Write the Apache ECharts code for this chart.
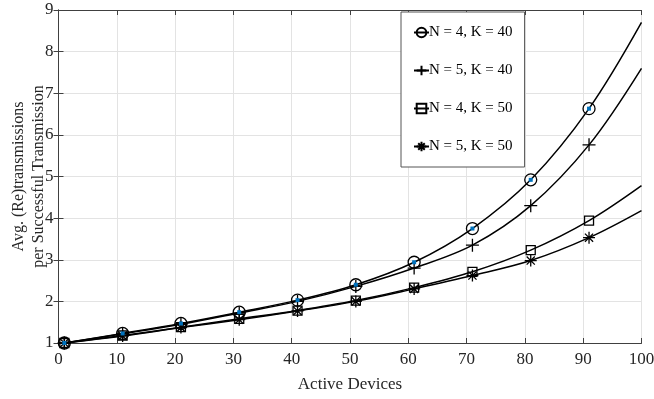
<!DOCTYPE html>
<html>
<head>
<meta charset="utf-8">
<script src="https://cdn.jsdelivr.net/npm/echarts@6/dist/echarts.min.js"></script>
<style>html,body{margin:0;padding:0;background:#fff;}#c{width:654px;height:399px;}</style>
</head>
<body>
<div id="c"></div>
<script>
// Data
const xValues = [1, 11, 21, 31, 41, 51, 61, 71, 81, 91, 100];
const seriesNames = ['N = 4, K = 40', 'N = 5, K = 40', 'N = 4, K = 50', 'N = 5, K = 50'];
const n4k40 = [1.00, 1.23, 1.47, 1.74, 2.03, 2.40, 2.94, 3.75, 4.92, 6.63, 8.70];
const n5k40 = [1.00, 1.22, 1.45, 1.72, 2.00, 2.36, 2.80, 3.35, 4.30, 5.76, 7.60];
const n4k50 = [1.00, 1.18, 1.38, 1.58, 1.78, 2.02, 2.33, 2.71, 3.23, 3.94, 4.78];
const n5k50 = [1.00, 1.17, 1.37, 1.56, 1.77, 2.00, 2.30, 2.62, 2.98, 3.53, 4.18];
const simX = [1, 11, 21, 31, 41, 51, 61, 71, 81, 91];
const simN4K40 = [1.00, 1.23, 1.47, 1.74, 2.03, 2.40, 2.94, 3.75, 4.92, 6.63];
const xTicks = [0, 10, 20, 30, 40, 50, 60, 70, 80, 90, 100];
const yTicks = [1, 2, 3, 4, 5, 6, 7, 8, 9];

const FONT = 'Liberation Serif';
const symbols = [
  {symbol: 'circle', size: 12},
  {symbol: 'path://M0,5L10,5M5,0L5,10', size: 13},
  {symbol: 'rect', size: 9},
  {symbol: 'path://M0,5L10,5M5,0L5,10M1.6,1.6L8.4,8.4M1.6,8.4L8.4,1.6', size: 12}
];
const allData = [n4k40, n5k40, n4k50, n5k50];

function buildData(vals) {
  return xValues.map((x, i) => {
    const item = {value: [x, vals[i]]};
    if (x === 100) item.symbol = 'none';
    return item;
  });
}

const series = allData.map((vals, k) => ({
  name: seriesNames[k],
  type: 'line',
  data: buildData(vals),
  smooth: 0.35,
  symbol: symbols[k].symbol,
  symbolSize: symbols[k].size,
  showAllSymbol: true,
  lineStyle: {color: '#000', width: 1.5},
  itemStyle: {color: 'rgba(0,0,0,0)', borderColor: '#000', borderWidth: 1.3},
  emphasis: {disabled: true},
  z: 3
}));
series.push({
  name: 'sim',
  type: 'scatter',
  data: simX.map((x, i) => [x, simN4K40[i]]),
  symbol: 'rect',
  symbolSize: 4,
  itemStyle: {color: '#0072BD', opacity: 1},
  emphasis: {disabled: true},
  z: 10
});

const axisLineColor = '#404040';
const chart = echarts.init(document.getElementById('c'), null, {renderer: 'canvas'});
chart.setOption({
  animation: false,
  backgroundColor: '#fff',
  grid: {left: 58.5, right: 12.5, top: 10, bottom: 56, containLabel: false, outerBoundsMode: 'none'},
  legend: {
    data: seriesNames,
    orient: 'vertical',
    left: 401,
    top: 12,
    padding: [13, 12, 13, 12],
    itemGap: 23,
    itemWidth: 15,
    itemHeight: 12,
    backgroundColor: '#fff',
    borderColor: '#555',
    borderWidth: 1,
    borderRadius: 0,
    textStyle: {fontFamily: FONT, fontSize: 15, color: '#000', padding: [0, 0, 0, -5]},
    selectedMode: false
  },
  xAxis: [{
    type: 'value', min: 0, max: 100, interval: 10, position: 'bottom',
    name: 'Active Devices', nameLocation: 'middle', nameGap: 33, nameMoveOverlap: false,
    nameTextStyle: {fontFamily: FONT, fontSize: 17, color: '#262626'},
    axisLine: {show: true, lineStyle: {color: axisLineColor, width: 1}},
    axisTick: {show: true, inside: true, length: 5, lineStyle: {color: axisLineColor}},
    axisLabel: {fontFamily: FONT, fontSize: 17, color: '#262626', margin: 8,
      formatter: v => xTicks.includes(v) ? String(v) : ''},
    splitLine: {show: true, lineStyle: {color: '#e3e3e3', width: 1}}
  }, {
    type: 'value', min: 0, max: 100, interval: 10, position: 'top',
    axisLine: {show: true, lineStyle: {color: axisLineColor, width: 1}},
    axisTick: {show: true, inside: true, length: 5, lineStyle: {color: axisLineColor}},
    axisLabel: {show: false}, splitLine: {show: false}
  }],
  yAxis: [{
    type: 'value', min: 1, max: 9, interval: 1, position: 'left',
    name: 'Avg. (Re)transmissions\nper Successful Transmission',
    nameLocation: 'middle', nameGap: 10, nameMoveOverlap: false,
    nameTextStyle: {fontFamily: FONT, fontSize: 16, color: '#262626', lineHeight: 20},
    axisLine: {show: true, lineStyle: {color: axisLineColor, width: 1}},
    axisTick: {show: true, inside: true, length: 5, lineStyle: {color: axisLineColor}},
    axisLabel: {fontFamily: FONT, fontSize: 17, color: '#262626', margin: 5,
      formatter: v => yTicks.includes(v) ? String(v) : ''},
    splitLine: {show: true, lineStyle: {color: '#e3e3e3', width: 1}}
  }, {
    type: 'value', min: 1, max: 9, interval: 1, position: 'right',
    axisLine: {show: true, lineStyle: {color: axisLineColor, width: 1}},
    axisTick: {show: true, inside: true, length: 5, lineStyle: {color: axisLineColor}},
    axisLabel: {show: false}, splitLine: {show: false}
  }],
  series: series
});
</script>
</body>
</html>
